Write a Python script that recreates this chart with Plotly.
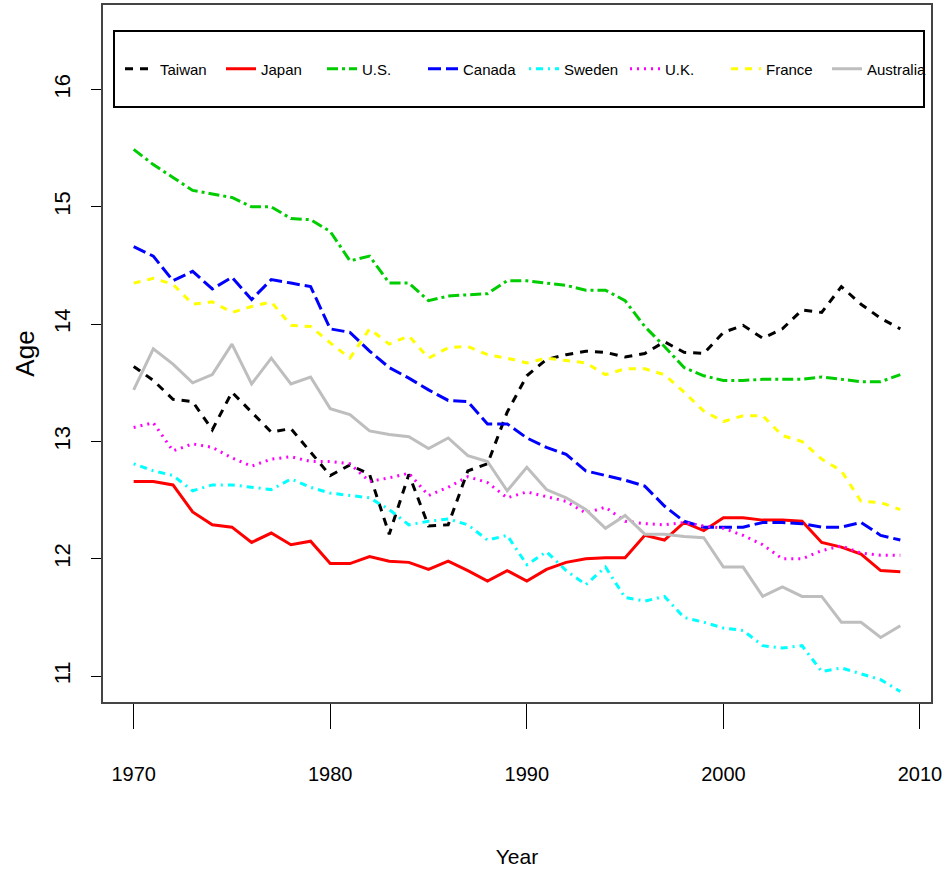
import plotly.graph_objects as go

years = list(range(1970, 2010))

taiwan = [13.64, 13.52, 13.36, 13.34, 13.10, 13.42, 13.25, 13.08, 13.11, 12.91,
          12.71, 12.80, 12.72, 12.21, 12.72, 12.28, 12.29, 12.75, 12.81, 13.25,
          13.56, 13.70, 13.74, 13.77, 13.76, 13.72, 13.75, 13.85, 13.76, 13.75,
          13.93, 13.99, 13.88, 13.96, 14.12, 14.10, 14.32, 14.17, 14.05, 13.96]
japan = [12.66, 12.66, 12.63, 12.40, 12.29, 12.27, 12.14, 12.22, 12.12, 12.15,
         11.96, 11.96, 12.02, 11.98, 11.97, 11.91, 11.98, 11.90, 11.81, 11.90,
         11.81, 11.91, 11.97, 12.00, 12.01, 12.01, 12.20, 12.16, 12.31, 12.24,
         12.35, 12.35, 12.33, 12.33, 12.32, 12.14, 12.10, 12.04, 11.90, 11.89]
us = [15.49, 15.36, 15.25, 15.14, 15.11, 15.08, 15.00, 15.00, 14.90, 14.89,
      14.79, 14.54, 14.58, 14.35, 14.35, 14.20, 14.24, 14.25, 14.26, 14.37,
      14.37, 14.35, 14.33, 14.29, 14.29, 14.20, 13.98, 13.81, 13.63, 13.56,
      13.52, 13.52, 13.53, 13.53, 13.53, 13.55, 13.53, 13.51, 13.51, 13.57]
canada = [14.66, 14.58, 14.37, 14.45, 14.30, 14.40, 14.21, 14.38, 14.35, 14.32,
          13.96, 13.93, 13.77, 13.63, 13.54, 13.44, 13.35, 13.34, 13.15, 13.15,
          13.03, 12.95, 12.89, 12.75, 12.71, 12.67, 12.62, 12.45, 12.32, 12.27,
          12.27, 12.27, 12.31, 12.31, 12.30, 12.27, 12.27, 12.31, 12.20, 12.16]
sweden = [12.81, 12.75, 12.71, 12.58, 12.63, 12.63, 12.61, 12.59, 12.68, 12.61,
          12.56, 12.54, 12.52, 12.42, 12.29, 12.32, 12.34, 12.29, 12.16, 12.20,
          11.95, 12.06, 11.90, 11.78, 11.93, 11.67, 11.64, 11.68, 11.50, 11.46,
          11.41, 11.39, 11.26, 11.24, 11.26, 11.04, 11.07, 11.02, 10.97, 10.87]
uk = [13.12, 13.16, 12.92, 12.98, 12.95, 12.86, 12.79, 12.85, 12.87, 12.83,
      12.83, 12.81, 12.66, 12.69, 12.73, 12.54, 12.61, 12.70, 12.65, 12.52,
      12.57, 12.53, 12.49, 12.39, 12.44, 12.32, 12.30, 12.29, 12.31, 12.28,
      12.26, 12.20, 12.12, 12.00, 12.00, 12.07, 12.11, 12.05, 12.03, 12.03]
france = [14.35, 14.39, 14.34, 14.17, 14.19, 14.10, 14.15, 14.19, 13.99, 13.98,
          13.84, 13.71, 13.96, 13.83, 13.90, 13.71, 13.80, 13.81, 13.74, 13.71,
          13.67, 13.71, 13.69, 13.67, 13.57, 13.62, 13.62, 13.57, 13.42, 13.26,
          13.17, 13.22, 13.22, 13.05, 13.00, 12.85, 12.75, 12.49, 12.48, 12.42]
australia = [13.44, 13.79, 13.66, 13.50, 13.57, 13.83, 13.49, 13.71, 13.49, 13.55,
             13.28, 13.23, 13.09, 13.06, 13.04, 12.94, 13.03, 12.88, 12.83, 12.58,
             12.78, 12.59, 12.52, 12.42, 12.26, 12.37, 12.21, 12.21, 12.19, 12.18,
             11.93, 11.93, 11.68, 11.76, 11.68, 11.68, 11.46, 11.46, 11.33, 11.43]

names = ["Taiwan", "Japan", "U.S.", "Canada", "Sweden", "U.K.", "France", "Australia"]
series = [taiwan, japan, us, canada, sweden, uk, france, australia]
colors = ["#000000", "#FF0000", "#00CD00", "#0000FF", "#00FFFF", "#FF00FF", "#FFFF00", "#BEBEBE"]
dashes = ["8px,7px", "solid", "11px,4px,3px,4px", "13px,5px", "2px,5px,7px,5px",
          "2px,5px", "7px,7px", "solid"]

x_ticks = [1970, 1980, 1990, 2000, 2010]
y_ticks = [11, 12, 13, 14, 15, 16]

FONT = "Liberation Sans, Arial, sans-serif"

W, H = 946, 883
L, R, T, B = 103, 15, 5, 181
pw, ph = W - L - R, H - T - B

def px_x(x):
    return (x - L) / pw

def px_y(y):
    return (H - B - y) / ph

fig = go.Figure()
for nm, vals, c, d in zip(names, series, colors, dashes):
    fig.add_trace(go.Scatter(x=years, y=vals, mode="lines", name=nm,
                             line=dict(color=c, width=3, dash=d)))

fig.update_layout(
    width=W, height=H,
    margin=dict(l=L, r=R, t=T, b=B, autoexpand=False),
    paper_bgcolor="white", plot_bgcolor="white",
    showlegend=True,
    legend=dict(orientation="h", x=px_x(120), xanchor="left",
                y=px_y(69), yanchor="middle",
                bgcolor="rgba(0,0,0,0)", borderwidth=0,
                font=dict(family=FONT, size=15, color="black"),
                entrywidth=56, entrywidthmode="pixels",
                itemwidth=30, traceorder="normal"),
    shapes=[dict(type="rect", xref="paper", yref="paper",
                 x0=px_x(114), x1=px_x(924), y0=px_y(31), y1=px_y(107),
                 line=dict(color="black", width=2), fillcolor="rgba(0,0,0,0)",
                 layer="above")],
    xaxis=dict(range=[1968.44, 2010.56], tickvals=x_ticks, ticktext=[str(v) for v in x_ticks],
               showgrid=False, zeroline=False, showline=True, mirror=True,
               linecolor="#444", linewidth=2, ticks="outside", ticklen=25,
               tickwidth=1, tickcolor="black", ticklabelstandoff=28,
               ticklabeloverflow="allow",
               tickfont=dict(family=FONT, size=20, color="black"),
               title=dict(text="Year", font=dict(family=FONT, size=21, color="black"),
                          standoff=65)),
    yaxis=dict(range=[10.78, 16.72], tickvals=y_ticks, ticktext=[str(v) for v in y_ticks],
               showgrid=False, zeroline=False, showline=True, mirror=True,
               linecolor="#444", linewidth=2, ticks="outside", ticklen=10,
               tickwidth=1, tickcolor="black", tickangle=-90, ticklabelstandoff=12,
               tickfont=dict(family=FONT, size=22, color="black"),
               title=dict(text="Age", font=dict(family=FONT, size=26, color="black"),
                          standoff=8)),
)

fig.write_html("out.html")
